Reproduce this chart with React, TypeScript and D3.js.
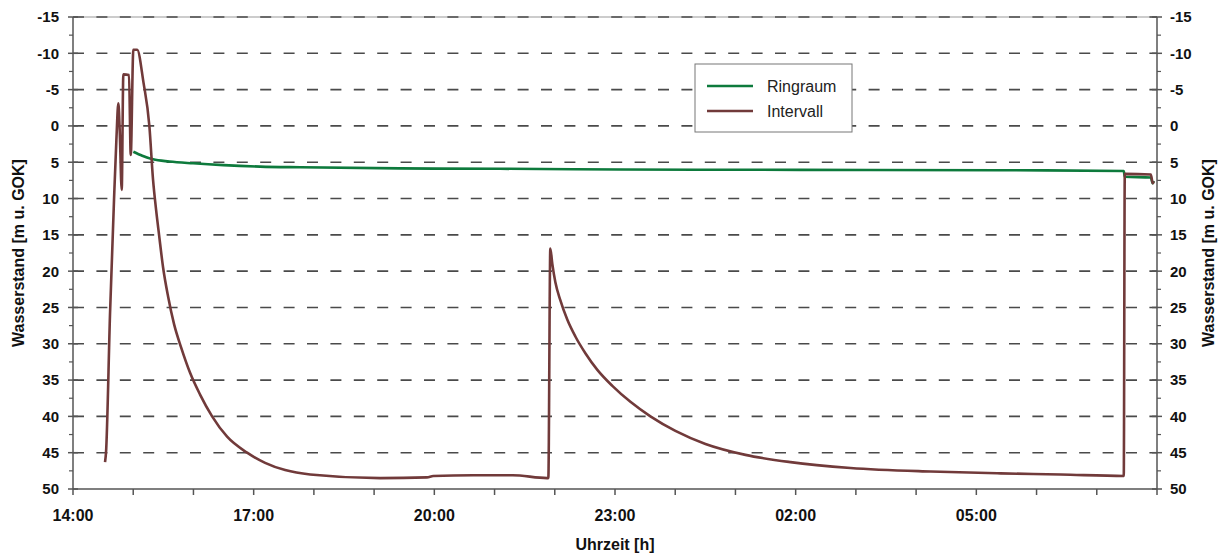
import * as d3 from "d3";
import React, { useEffect, useRef } from "react";

// hours after 14:00 and water level [m u. GOK]
const intervallT = [0.532, 0.548, 0.615, 0.681, 0.72, 0.753, 0.775, 0.809, 0.836, 0.93, 0.959, 1.002, 1.065,
  1.17, 1.268, 1.329, 1.379, 1.429, 1.496, 1.579, 1.678, 1.795, 1.944, 2.11, 2.31, 2.559, 2.891, 3.19, 3.523,
  3.938, 5.101, 5.877, 5.982, 6.647, 7.3, 7.871, 7.893,
  7.926, 7.959, 8.009, 8.092, 8.209, 8.342, 8.508, 8.707, 8.956, 9.256, 9.588, 10.003, 10.502, 11.166,
  11.914, 12.911, 14.241, 15.404, 16.401, 17.448, 17.465, 17.897, 17.93, 17.947];
const intervallV = [46.3, 45.0, 25.8, 10.2, 2.0, -3.1, 0.5, 8.8, -7.1, -7.0, 4.0, -10.5, -10.5,
  -6.0, 0.0, 7.4, 11.5, 15.0, 19.5, 23.5, 27.3, 30.5, 34.0, 37.0, 40.0, 42.8, 45.0, 46.4, 47.4,
  48.0, 48.5, 48.4, 48.2, 48.1, 48.1, 48.5, 48.5,
  16.9, 19.0, 21.5, 24.0, 26.7, 29.0, 31.3, 33.6, 35.8, 38.0, 40.0, 42.0, 43.8, 45.3,
  46.3, 47.1, 47.6, 47.85, 48.0, 48.2, 6.6, 6.7, 7.9, 7.6];

const ringraumT = [1.002, 1.15, 1.329, 1.6, 1.994, 2.5, 3.107, 3.772, 5.43, 7.095, 9.09, 12.08, 15.4, 17.448,
  17.465, 17.897, 17.93, 17.947];
const ringraumV = [3.55, 4.1, 4.6, 4.9, 5.15, 5.4, 5.6, 5.7, 5.85, 5.9, 6.0, 6.05, 6.1, 6.2,
  7.0, 7.1, 7.9, 7.6];

const yTicks = [-15, -10, -5, 0, 5, 10, 15, 20, 25, 30, 35, 40, 45, 50];
const xLabels = ["14:00", "17:00", "20:00", "23:00", "02:00", "05:00"];

const series = [
  { name: "Ringraum", color: "#0d7a3c", t: ringraumT, v: ringraumV },
  { name: "Intervall", color: "#713a3a", t: intervallT, v: intervallV },
];

const W = 1223, H = 554;
const left = 73, right = 1157, top = 17, bottom = 489;
const font = "'Liberation Sans', Arial, sans-serif";

export default function App() {
  const svgRef = useRef(null);

  useEffect(() => {
    const svg = d3.select(svgRef.current);
    svg.selectAll("*").remove();

    const x = d3.scaleLinear().domain([0, 18]).range([left, right]);
    const y = d3.scaleLinear().domain([-15, 50]).range([top, bottom]);

    // top border + dashed grid
    svg.append("line").attr("x1", left).attr("x2", right).attr("y1", y(-15)).attr("y2", y(-15))
      .attr("stroke", "#999").attr("stroke-width", 1);
    svg.append("g").selectAll("line")
      .data(yTicks.filter((d) => d < 50))
      .enter().append("line")
      .attr("x1", left).attr("x2", right)
      .attr("y1", (d) => y(d)).attr("y2", (d) => y(d))
      .attr("stroke", "#4a4a4a").attr("stroke-width", 1.6)
      .attr("stroke-dasharray", "11 12.4");

    // axes
    const axisColor = "#555";
    svg.append("line").attr("x1", left).attr("x2", left).attr("y1", top).attr("y2", bottom)
      .attr("stroke", axisColor).attr("stroke-width", 1.5);
    svg.append("line").attr("x1", right).attr("x2", right).attr("y1", top).attr("y2", bottom)
      .attr("stroke", axisColor).attr("stroke-width", 1.5);
    svg.append("line").attr("x1", left).attr("x2", right).attr("y1", bottom).attr("y2", bottom)
      .attr("stroke", axisColor).attr("stroke-width", 1.5);

    const minor = d3.range(-12.5, 50, 5);
    [left, right].forEach((ax) => {
      const g = svg.append("g");
      g.selectAll(".maj").data(yTicks).enter().append("line")
        .attr("x1", ax - 5).attr("x2", ax + 5)
        .attr("y1", (d) => y(d)).attr("y2", (d) => y(d))
        .attr("stroke", axisColor).attr("stroke-width", 1.5);
      const dir = ax === left ? -1 : 1;
      g.selectAll(".min").data(minor).enter().append("line")
        .attr("x1", ax).attr("x2", ax + dir * 4)
        .attr("y1", (d) => y(d)).attr("y2", (d) => y(d))
        .attr("stroke", axisColor).attr("stroke-width", 1.2);
      g.selectAll("text").data(yTicks).enter().append("text")
        .attr("x", ax === left ? ax - 14 : ax + 13)
        .attr("y", (d) => y(d)).attr("dy", "0.36em")
        .attr("text-anchor", ax === left ? "end" : "start")
        .style("font", `bold 15px ${font}`).attr("fill", "#111")
        .text((d) => d);
    });

    svg.append("g").selectAll("line").data(d3.range(0, 19)).enter().append("line")
      .attr("x1", (d) => x(d)).attr("x2", (d) => x(d))
      .attr("y1", bottom).attr("y2", bottom + 6)
      .attr("stroke", axisColor).attr("stroke-width", 1.5);
    svg.append("g").selectAll("text").data(xLabels).enter().append("text")
      .attr("x", (d, i) => x(i * 3)).attr("y", 521)
      .attr("text-anchor", "middle")
      .style("font", `bold 16px ${font}`).attr("fill", "#111")
      .text((d) => d);

    // axis titles
    svg.append("text").attr("x", x(9)).attr("y", 550).attr("text-anchor", "middle")
      .style("font", `bold 16px ${font}`).attr("fill", "#111").text("Uhrzeit [h]");
    [24, 1214].forEach((tx) => {
      svg.append("text")
        .attr("transform", `translate(${tx},${(top + bottom) / 2}) rotate(-90)`)
        .attr("text-anchor", "middle")
        .style("font", `bold 16px ${font}`).attr("fill", "#111")
        .text("Wasserstand [m u. GOK]");
    });

    // lines
    const line = d3.line().x((d) => x(d[0])).y((d) => y(d[1])).curve(d3.curveMonotoneX);
    series.forEach((s) => {
      const pts = s.t.map((t, i) => [t, s.v[i]]);
      svg.append("path").datum(pts).attr("d", line)
        .attr("fill", "none").attr("stroke", s.color).attr("stroke-width", 2.6)
        .attr("stroke-linejoin", "round");
    });

    // legend
    const lg = svg.append("g").attr("transform", "translate(695,64)");
    lg.append("rect").attr("width", 157).attr("height", 68)
      .attr("fill", "#fff").attr("stroke", "#777").attr("stroke-width", 1);
    series.forEach((s, i) => {
      const ly = 22 + i * 25;
      lg.append("line").attr("x1", 12).attr("x2", 58).attr("y1", ly).attr("y2", ly)
        .attr("stroke", s.color).attr("stroke-width", 2.6);
      lg.append("text").attr("x", 72).attr("y", ly).attr("dy", "0.36em")
        .style("font", `16px ${font}`).attr("fill", "#222").text(s.name);
    });
  }, []);

  return (
    <div style={{ position: "absolute", left: 0, top: 0 }}>
      <svg ref={svgRef} width={W} height={H} style={{ display: "block", background: "#fff" }} />
    </div>
  );
}
